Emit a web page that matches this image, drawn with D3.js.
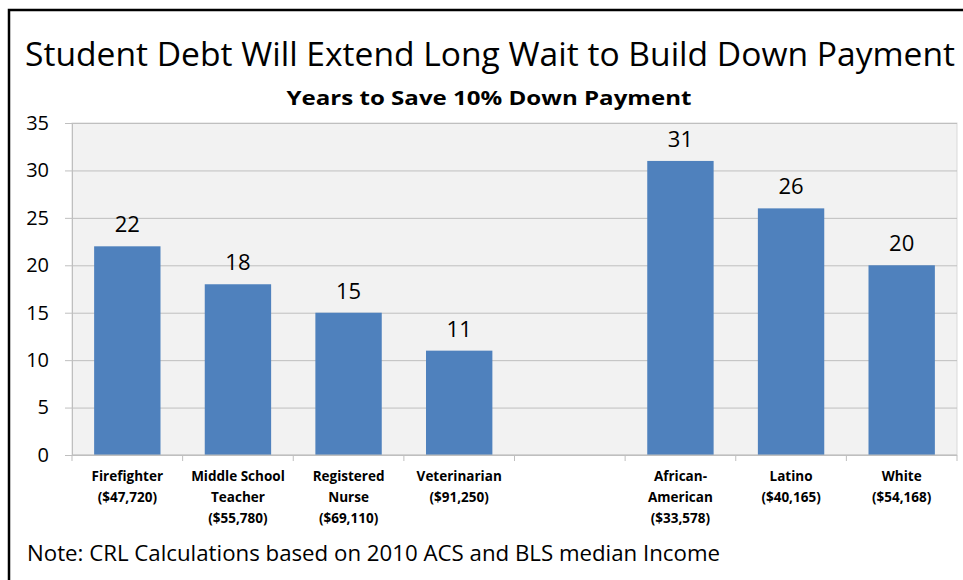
<!DOCTYPE html>
<html>
<head>
<meta charset="utf-8">
<script src="https://cdn.jsdelivr.net/npm/d3@7"></script>
<style>
  body { margin: 0; background: #fff; }
  text { font-family: "Open Sans", "Noto Sans", sans-serif; fill: #000; }
</style>
</head>
<body>
<svg id="chart" width="963" height="580"></svg>
<script>
// chart data
const categories = ["Firefighter", "Middle School Teacher", "Registered Nurse", "Veterinarian", "",
                    "African-American", "Latino", "White"];
const categoryLines = [
  ["Firefighter", "($47,720)"],
  ["Middle School", "Teacher", "($55,780)"],
  ["Registered", "Nurse", "($69,110)"],
  ["Veterinarian", "($91,250)"],
  [],
  ["African-", "American", "($33,578)"],
  ["Latino", "($40,165)"],
  ["White", "($54,168)"]
];
const years = [22, 18, 15, 11, null, 31, 26, 20];
const yTicks = [0, 5, 10, 15, 20, 25, 30, 35];

const title = "Student Debt Will Extend Long Wait to Build Down Payment";
const subtitle = "Years to Save 10% Down Payment";
const note = "Note: CRL Calculations based on 2010 ACS and BLS median Income";

const svg = d3.select("#chart");
let margin = {top: 123, left: 72, right: 6, bottom: 125};
let width = 963 - margin.left - margin.right;
let height = 580 - margin.top - margin.bottom;

// frame
svg.append("path")
  .attr("d", "M9,580 V10 H963")
  .attr("fill", "none")
  .attr("stroke", "#000")
  .attr("stroke-width", 2.5);

svg.append("text")
  .attr("x", 490).attr("y", 66)
  .attr("text-anchor", "middle")
  .attr("textLength", 930).attr("lengthAdjust", "spacingAndGlyphs")
  .style("font-size", "32px")
  .text(title);

svg.append("text")
  .attr("x", 489).attr("y", 105)
  .attr("text-anchor", "middle")
  .attr("textLength", 405).attr("lengthAdjust", "spacingAndGlyphs")
  .style("font-size", "20px").style("font-weight", "bold")
  .text(subtitle);

const g = svg.append("g")
  .attr("transform", "translate(" + margin.left + "," + margin.top + ")");

let x = d3.scaleBand().domain(d3.range(categories.length)).range([0, width])
  .paddingInner(0.4).paddingOuter(0.2);
let y = d3.scaleLinear().domain([0, 35]).range([height, 0]);

// plot background
g.append("rect")
  .attr("width", width).attr("height", height)
  .attr("fill", "#f2f2f2")
  .attr("stroke", "#d9d9d9");

// gridlines
g.append("g")
  .call(d3.axisLeft(y).tickValues(yTicks).tickSize(-width).tickFormat(""))
  .call(a => a.select(".domain").remove())
  .selectAll("line").attr("stroke", "#bfbfbf");

// y axis
g.append("g")
  .call(d3.axisLeft(y).tickValues(yTicks).tickSize(7).tickPadding(16))
  .call(a => a.select(".domain").attr("stroke", "#bfbfbf"))
  .call(a => a.selectAll("line").attr("stroke", "#bfbfbf"))
  .selectAll("text").style("font-size", "20px").attr("fill", "#000");

// bars
g.selectAll(".bar")
  .data(years.map((v, i) => ({v: v, i: i})).filter(d => d.v != null))
  .enter().append("rect")
  .attr("x", d => x(d.i))
  .attr("y", d => y(d.v))
  .attr("width", x.bandwidth())
  .attr("height", d => height - y(d.v))
  .attr("fill", "#4f81bd");

g.selectAll(".val")
  .data(years.map((v, i) => ({v: v, i: i})).filter(d => d.v != null))
  .enter().append("text")
  .attr("x", d => x(d.i) + x.bandwidth() / 2)
  .attr("y", d => y(d.v) - 14)
  .attr("text-anchor", "middle")
  .style("font-size", "22px")
  .text(d => d.v);

// x axis ticks at category boundaries
let step = x.step();
g.append("g")
  .attr("transform", "translate(0," + height + ")")
  .selectAll("line")
  .data(d3.range(categories.length + 1))
  .enter().append("line")
  .attr("x1", d => d * step).attr("x2", d => d * step)
  .attr("y1", 0).attr("y2", 6)
  .attr("stroke", "#bfbfbf");

g.append("line")
  .attr("x1", 0).attr("x2", width)
  .attr("y1", height).attr("y2", height)
  .attr("stroke", "#bfbfbf");

// category labels
const lbl = g.append("g").attr("transform", "translate(0," + height + ")");
categoryLines.forEach((lines, i) => {
  const t = lbl.append("text")
    .attr("x", x(i) + x.bandwidth() / 2)
    .attr("y", 26)
    .attr("text-anchor", "middle")
    .style("font-size", "13.5px").style("font-weight", "bold");
  lines.forEach((s, j) => {
    t.append("tspan").attr("x", x(i) + x.bandwidth() / 2)
      .attr("dy", j == 0 ? 0 : 21).text(s);
  });
});

svg.append("text")
  .attr("x", 27).attr("y", 561)
  .attr("textLength", 693).attr("lengthAdjust", "spacingAndGlyphs")
  .style("font-size", "21px")
  .text(note);
</script>
</body>
</html>
